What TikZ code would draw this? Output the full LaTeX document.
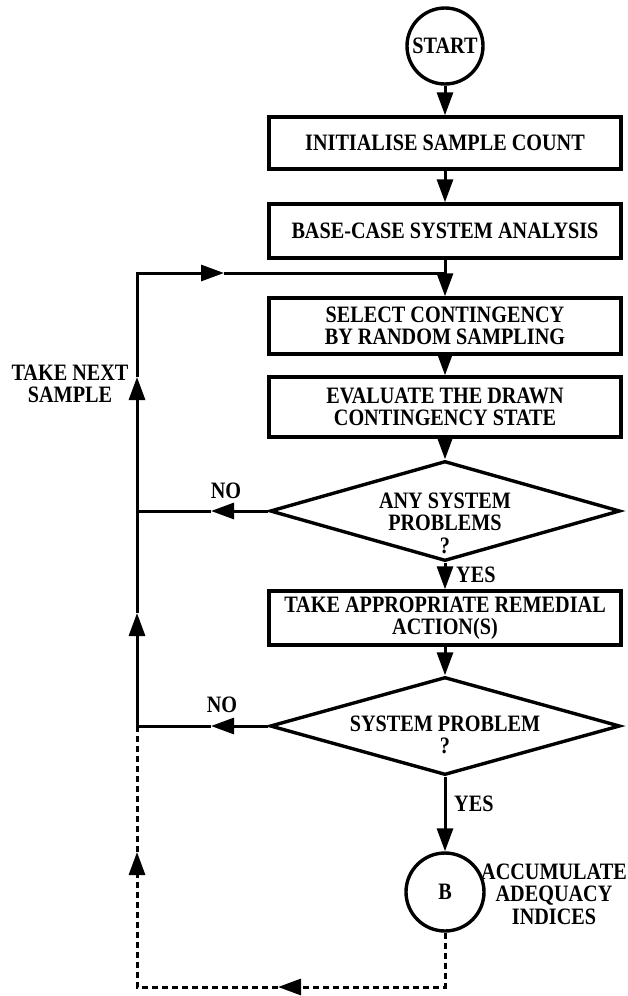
\documentclass[tikz,border=0pt]{standalone}
\usepackage{fontspec}
\setmainfont{Liberation Serif}[FakeStretch=0.86]
\usetikzlibrary{arrows.meta,shapes.geometric}

\begin{document}
\begin{tikzpicture}[x=1pt,y=-1pt,
  font=\fontsize{23.5}{22.5}\selectfont\bfseries,
  procbox/.style={draw, rectangle, line width=3.4pt, minimum width=352pt, align=center, inner sep=0pt},
  termcirc/.style={draw, circle, line width=3.4pt, minimum size=76pt, inner sep=0pt},
  decision/.style={draw, diamond, line width=3.4pt, minimum width=350pt, minimum height=100pt, shape aspect=3.5, inner sep=0pt},
  flow/.style={line width=3pt},
  flowarr/.style={flow, -{Triangle[length=23pt,width=16pt]}},
  retpath/.style={line width=3pt, dash pattern=on 6pt off 4pt},
  retarr/.style={retpath, -{Triangle[length=23pt,width=16pt]}},
  txt/.style={align=center, inner sep=0pt}
]
\useasboundingbox (0,0) rectangle (627,996);

% main sequence
\node[termcirc] (start) at (445,46) {START};
\node[procbox, minimum height=52pt] (b1) at (445,143) {INITIALISE SAMPLE COUNT};
\node[procbox, minimum height=54pt] (b2) at (445,231) {BASE-CASE SYSTEM ANALYSIS};
\node[procbox, minimum height=56pt] (b3) at (445,326) {SELECT CONTINGENCY\\BY RANDOM SAMPLING};
\node[procbox, minimum height=60pt] (b4) at (445,407) {EVALUATE THE DRAWN\\CONTINGENCY STATE};
\node[decision] (d1) at (445,511) {};
\node[txt] (d1text) at (445,523) {ANY SYSTEM\\PROBLEMS\\?};
\node[procbox, minimum height=54pt] (b5) at (445,618) {TAKE APPROPRIATE REMEDIAL\\ACTION(S)};
\node[decision, minimum height=98pt] (d2) at (445,726) {};
\node[txt] (d2text) at (445,735) {SYSTEM PROBLEM\\?};
\node[termcirc, minimum size=78pt] (B) at (445,892) {B};

% labels
\node[txt] (no1) at (226,491) {NO};
\node[txt] (no2) at (222,705) {NO};
\node[txt, anchor=west] (yes1) at (456,575) {YES};
\node[txt, anchor=west] (yes2) at (454,804) {YES};
\node[txt] (takenext) at (70,384) {TAKE NEXT\\SAMPLE};
\node[txt] (accum) at (554,894) {ACCUMULATE\\ADEQUACY\\INDICES};

% forward connectors
\draw[flowarr] (start) -- (b1);
\draw[flowarr] (b1) -- (b2);
\draw[flowarr] (b2) -- (b3);
\draw[flowarr] (b3) -- (b4);
\draw[flowarr] (b4) -- (d1);
\draw[flowarr] (d1) -- (b5);
\draw[flowarr] (b5) -- (d2);
\draw[flowarr] (d2) -- (B);

% return loop points
\coordinate (noOneEnd) at (137,511);
\coordinate (noTwoEnd) at (137,726);
\coordinate (loopTop) at (137,273);
\coordinate (join) at (445,273);
\coordinate (tipNoOne) at (211,511);
\coordinate (tipNoTwo) at (211,726);
\coordinate (tipUpLow) at (137,613);
\coordinate (tipUpHigh) at (137,377);
\coordinate (tipRight) at (224,273);
\coordinate (dashCorner) at (445,987);
\coordinate (dashLeft) at (137,987);
\coordinate (tipDashLeft) at (278,987);
\coordinate (tipDashUp) at (137,852);

% NO branches
\draw[flowarr] (d1.west) -- (tipNoOne);
\draw[flow] (tipNoOne) -- (noOneEnd);
\draw[flowarr] (d2.west) -- (tipNoTwo);
\draw[flow] (tipNoTwo) -- (noTwoEnd);

% take next sample loop
\draw[flowarr] (noTwoEnd) -- (tipUpLow);
\draw[flowarr] (tipUpLow) -- (tipUpHigh);
\draw[flowarr, line join=miter] (tipUpHigh) -- (loopTop) -- (tipRight);
\draw[flow] (tipRight) -- (join);

% dashed return from B
\draw[retarr] (B) -- (dashCorner) -- (tipDashLeft);
\draw[retarr] (tipDashLeft) -- (dashLeft) -- (tipDashUp);
\draw[retpath] (tipDashUp) -- (noTwoEnd);
\end{tikzpicture}
\end{document}
